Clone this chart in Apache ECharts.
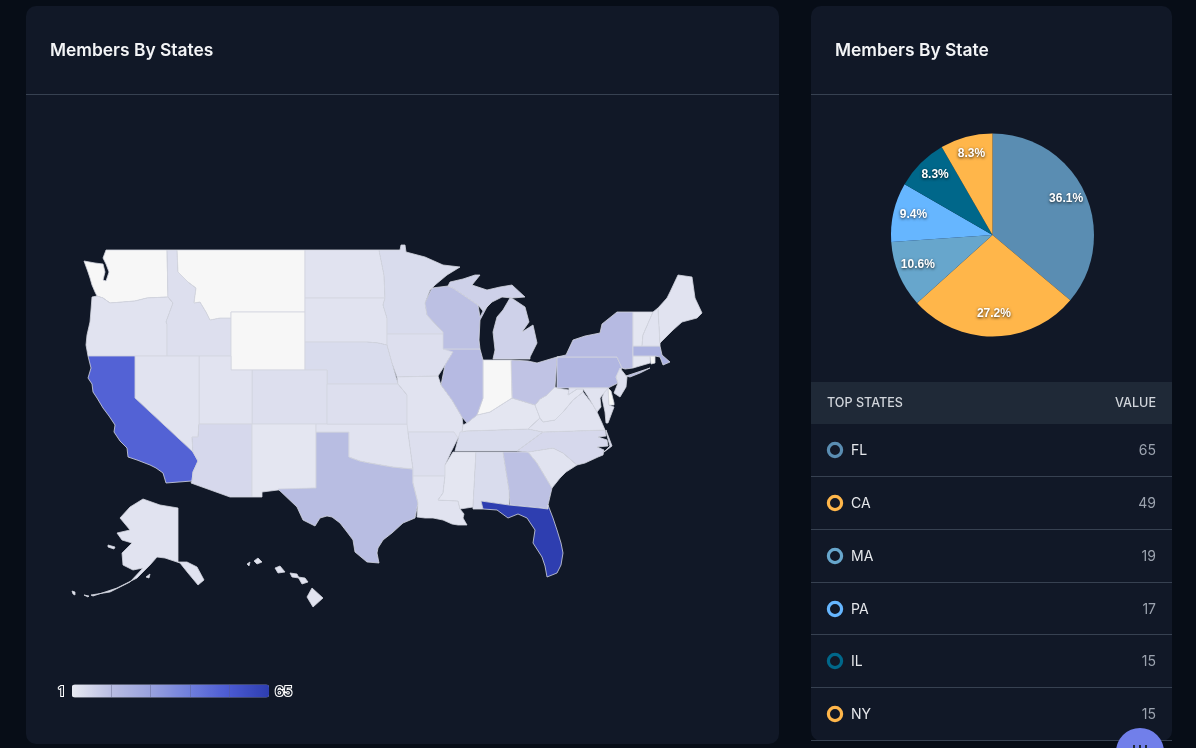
<!DOCTYPE html>
<html>
<head>
<meta charset="utf-8">
<style>html,body{margin:0;padding:0;background:#070d17}#c{width:1196px;height:748px}</style>
<script src="https://cdn.jsdelivr.net/npm/echarts@6/dist/echarts.min.js"></script>
</head>
<body>
<div id="c"></div>
<script>
// ---- data ----
const mapTitle = 'Members By States';
const pieTitle = 'Members By State';
const tableHeads = ['TOP STATES', 'VALUE'];
const topStates = ['FL', 'CA', 'MA', 'PA', 'IL', 'NY'];
const topValues = [65, 49, 19, 17, 15, 15];
const topColors = ['#5a8db2', '#ffb64a', '#67a6cc', '#66b6ff', '#00678a', '#ffb64a'];
const mapStates = ['FL','CA','MA','PA','IL','NY','TX','WI','GA','OH','MI','AZ','NC','MN','NE','TN','AL','ID','OR','KS','CO','ND','SD','IA','MO','AR','OK','NV','UT','NM','LA','MS','SC','KY','VA','WV','MD','NJ','CT','NH','VT','ME','AK','HI'];
const mapValues = [65,49,19,17,15,15,14,13,13,12,8,6,6,5,5,5,5,4,3,4,4,3,3,4,3,4,3,3,3,2,3,2,3,2,3,2,3,4,2,3,2,3,3,3];
const scaleColors = ['#e8eaf2','#b9bde2','#98a1de','#6f7edc','#4a59d2','#2e3eb0'];
const scaleMin = 1, scaleMax = 65;

// simplified state outlines, in map units
const stateShapes = {
WA:['106,250 167,250 168,297 147,298 135,301 123,302 110,303 103,298 97,296 95,292 92,285 90,278 88,272 84,261 95,263 103,264 105,272 103,280 106,281 109,272 106,264 103,258'],
OR:['92,297 97,296 103,298 110,303 123,302 135,301 147,298 168,297 173,303 166,322 167,324 167,356 88,356 86,345 87,335 90,322 91,310'],
ID:['167,250 177,250 178,272 188,282 196,288 194,303 200,302 206,312 210,320 220,318 231,318 231,356 167,356 167,324 166,322 173,303 168,297'],
MT:['177,250 305,250 305,312 231,312 231,318 220,318 210,320 206,312 200,302 194,303 196,288 188,282 178,272'],
WY:['231,312 305,312 305,370 231,370'],
ND:['305,250 379,250 384,275 385,298 305,298'],
SD:['305,298 385,298 383,305 387,318 387,345 378,343 367,342 305,342'],
NE:['305,342 367,342 378,343 387,345 392,363 398,384 327,384 327,370 305,370'],
CO:['252,370 327,370 327,424 252,424'],
UT:['199,356 231,356 231,370 252,370 252,424 199,424'],
NV:['135,356 199,356 199,424 198,437 192,437 193,452 135,398'],
CA:['88,356 135,356 135,398 193,452 198,461 193,472 192,481 166,483 163,473 156,468 150,465 137,460 128,457 127,448 120,441 114,432 115,425 109,416 103,408 97,398 93,392 92,384 88,378 91,368'],
AZ:['199,424 252,424 252,497 230,497 191,483 192,481 193,472 198,461 193,452 192,437 198,437'],
NM:['252,424 316,424 316,488 278,490 262,492 262,497 252,497'],
TX:['316,432 349,432 349,457 360,461 370,463 393,467 413,469 413,483 418,503 415,518 403,523 392,533 383,540 378,548 377,553 379,563 367,562 355,552 353,540 347,532 340,523 332,517 327,516 320,518 315,526 303,520 297,507 278,489 316,488'],
OK:['316,424 408,424 408,432 413,469 393,467 370,463 360,461 349,457 349,432 316,432'],
KS:['327,384 398,384 403,390 407,395 407,424 327,424'],
MN:['379,250 400,250 401,245 405,245 406,252 425,257 443,265 460,267 447,275 435,285 430,290 425,303 427,315 443,332 443,334 387,334 387,318 383,305 385,298 384,275'],
IA:['387,334 443,334 453,352 445,365 438,376 397,377 392,363 387,345'],
MO:['397,377 438,376 441,385 452,400 462,417 463,425 462,432 458,438 454,438 454,432 408,432 407,424 407,395 403,390 398,384'],
AR:['408,432 454,432 458,438 451,452 445,465 445,476 413,476 413,469'],
LA:['413,476 445,476 443,493 438,500 458,501 460,509 464,514 463,518 467,525 458,525 452,524 443,520 433,518 425,518 417,517 418,503 413,483'],
MS:['453,452 476,452 473,507 460,509 458,501 438,500 443,493 445,476 445,465'],
AL:['476,452 503,452 509,490 509,505 481,501 483,509 473,509 473,507'],
GA:['503,452 528,452 537,463 552,488 548,505 548,509 540,508 510,505 509,490'],
FL:['481,501 509,505 540,508 548,509 548,505 553,518 557,530 561,543 563,553 561,565 557,573 547,577 545,566 542,557 533,543 535,530 527,518 518,514 508,518 497,510 483,509'],
SC:['528,452 553,448 563,453 577,465 566,472 560,478 552,488 537,463'],
NC:['517,451 543,432 605,430 606,436 598,437 607,440 608,446 597,447 604,450 603,455 598,457 585,463 577,465 563,453 553,448 528,452','606,430 612,446 604,452 603,451 610,446 606,432'],
TN:['455,451 460,432 466,431 528,429 543,432 517,451'],
KY:['462,432 463,425 467,423 477,415 490,412 512,398 535,405 540,418 528,429 466,431'],
VA:['528,429 540,418 543,422 555,420 563,412 573,400 583,392 593,405 597,412 602,423 605,430 543,432'],
WV:['535,405 540,399 547,395 555,387 557,388 569,390 568,395 577,389 583,389 583,392 573,400 563,412 555,420 543,422 540,418'],
OH:['511,360 528,361 537,363 557,357 556,373 555,387 547,395 540,399 535,405 512,398'],
IN:['483,360 511,360 512,398 490,412 477,415 483,398'],
IL:['443,349 480,349 483,360 483,398 477,415 467,423 462,417 452,400 441,385 445,365 453,352'],
WI:['432,288 448,286 453,288 478,305 480,317 485,307 488,305 480,320 479,340 480,349 443,349 443,332 427,315 425,303'],
MI:['493,359 495,350 493,332 497,317 503,310 510,298 513,299 525,307 529,322 522,332 533,325 537,343 530,357 530,359','448,286 450,282 463,279 475,275 480,275 472,285 487,290 500,287 512,285 525,297 512,298 502,297 492,302 483,311 478,305 453,288'],
PA:['557,357 617,357 622,368 616,377 618,383 608,388 557,388'],
NY:['557,357 566,355 573,340 585,336 600,333 602,324 617,312 633,312 633,346 633,368 625,369 622,368 617,357','626,376 650,368 640,373 630,377'],
NJ:['620,368 627,377 626,387 620,397 614,393 618,383 616,377'],
MD:['569,388 608,388 604,393 600,398 601,407 597,412 593,405 587,395 583,389 577,389 568,395 569,390','604,393 608,388 609,405 614,407 608,423 606,423 605,412 602,398'],
DE:['608,388 611,391 614,403 614,405 609,405'],
CT:['633,356 650,356 650,363 633,368'],
RI:['650,356 655,356 655,363 651,364'],
MA:['633,346 660,346 662,355 670,362 663,365 660,357 655,356 633,356'],
VT:['633,312 653,312 643,335 642,346 633,346'],
NH:['653,312 658,308 660,343 660,346 642,346 643,335'],
ME:['658,308 667,298 670,292 678,275 692,277 695,298 702,313 697,318 682,322 673,330 660,343'],
AK:['178,508 178,562 187,562 197,567 204,580 198,585 188,573 180,563 165,558 157,557 150,565 137,578 117,588 93,596 91,595 110,592 130,582 143,568 133,570 123,565 122,553 132,543 122,540 117,533 130,530 120,518 130,507 143,499 160,505','108,545 115,547 114,549 108,547','146,577 150,574 149,578','72,591 75,592 75,595 73,594','84,595 89,596 88,597'],
HI:['307,597 312,588 323,598 313,607','275,568 280,566 285,572 278,573','254,561 258,558 262,562 257,564','290,573 297,574 299,578 292,577','298,577 305,578 308,582 302,584','247,564 250,562 249,566']
};

const features = Object.keys(stateShapes).map(function (code) {
  return {
    type: 'Feature', properties: { name: code },
    geometry: {
      type: 'MultiPolygon',
      coordinates: stateShapes[code].map(function (r) {
        return [r.split(' ').map(function (p) { const a = p.split(','); return [+a[0], -a[1]]; })];
      })
    }
  };
});
echarts.registerMap('US', { type: 'FeatureCollection', features: features });

const FONT = 'Inter, "Noto Sans", sans-serif';
const chart = echarts.init(document.getElementById('c'), null, { renderer: 'canvas' });

const g = [];
function card(x, y, w, h) {
  g.push({ type: 'rect', z: -5, shape: { x: x, y: y, width: w, height: h, r: 10 }, style: { fill: '#111827' } });
  g.push({ type: 'rect', z: -4, shape: { x: x, y: 94, width: w, height: 1 }, style: { fill: '#374151' } });
}
card(26, 6, 753, 738);
card(811, 6, 361, 735);
g.push({ type: 'rect', z: -4, shape: { x: 811, y: 382, width: 361, height: 42 }, style: { fill: '#1f2937' } });
g.push({ type: 'text', z: 5, style: { x: 827, y: 403.5, text: tableHeads[0], fill: '#d1d5db', font: '500 12.6px ' + FONT, align: 'left', verticalAlign: 'middle' } });
g.push({ type: 'text', z: 5, style: { x: 1156, y: 403.5, text: tableHeads[1], fill: '#d1d5db', font: '500 12.6px ' + FONT, align: 'right', verticalAlign: 'middle' } });
const rowMid = [451, 504, 557, 610, 662, 715];
const rowDot = [450, 503, 556, 609, 661, 714];
const rowLine = [476, 529, 582, 634, 687, 740];
topStates.forEach(function (s, i) {
  g.push({ type: 'circle', z: 5, shape: { cx: 835, cy: rowDot[i], r: 6.6 }, style: { fill: 'transparent', stroke: topColors[i], lineWidth: 3.2 } });
  g.push({ type: 'text', z: 5, style: { x: 851, y: rowMid[i], text: s, fill: '#e5e7eb', font: '400 14px ' + FONT, align: 'left', verticalAlign: 'middle' } });
  g.push({ type: 'text', z: 5, style: { x: 1156, y: rowMid[i], text: String(topValues[i]), fill: '#9ca3af', font: '400 14px ' + FONT, align: 'right', verticalAlign: 'middle' } });
  g.push({ type: 'rect', z: 5, shape: { x: 811, y: rowLine[i], width: 361, height: 1 }, style: { fill: '#374151' } });
});
// scale bar segment ticks and end labels
[111, 150, 190, 229].forEach(function (x) {
  g.push({ type: 'rect', z: 50, shape: { x: x, y: 684.5, width: 1, height: 13 }, style: { fill: 'rgba(90,95,130,0.4)' } });
});
const endStyle = { fill: '#111827', stroke: '#ffffff', lineWidth: 2, font: '600 13.5px ' + FONT, verticalAlign: 'middle' };
g.push({ type: 'text', z: 50, style: Object.assign({}, endStyle, { x: 64, y: 691.5, text: String(scaleMin), align: 'right' }) });
g.push({ type: 'text', z: 50, style: Object.assign({}, endStyle, { x: 275, y: 691.5, text: String(scaleMax), align: 'left' }) });
// floating button
g.push({ type: 'circle', z: 60, shape: { cx: 1140, cy: 752, r: 24 }, style: { fill: '#717fea' } });
[1134, 1140, 1146].forEach(function (x) {
  g.push({ type: 'rect', z: 61, shape: { x: x - 1, y: 745, width: 2, height: 4 }, style: { fill: '#1f2937' } });
});

const pieTotal = topValues.reduce(function (a, b) { return a + b; }, 0);
const pieR = 101.5;
function labelShift(i) {
  let before = 0;
  for (let k = 0; k < i; k++) before += topValues[k];
  const a = (before + topValues[i] / 2) / pieTotal * Math.PI * 2;
  return { dx: Math.sin(a) * pieR * 0.27, dy: -Math.cos(a) * pieR * 0.27 - 2.5 };
}

const titleStyle = { color: '#f3f4f6', fontFamily: FONT, fontWeight: 600, fontSize: 17.4, lineHeight: 20 };
chart.setOption({
  backgroundColor: '#070d17',
  animation: false,
  title: [
    { text: mapTitle, left: 50, top: 40.5, textStyle: titleStyle, padding: 0 },
    { text: pieTitle, left: 835, top: 40.5, textStyle: titleStyle, padding: 0 }
  ],
  graphic: g,
  visualMap: {
    type: 'continuous', seriesIndex: 0, min: scaleMin, max: scaleMax, calculable: false, realtime: false,
    orient: 'horizontal', left: 72, top: 684.5, itemWidth: 13, itemHeight: 197, itemGap: 0,
    text: null, showLabel: false, padding: 0,
    inRange: { color: scaleColors }
  },
  series: [
    {
      type: 'map', map: 'US', aspectScale: 1, left: 72, top: 245, width: 630, height: 362, silent: true, roam: false,
      label: { show: false },
      itemStyle: { areaColor: '#f7f7f7', borderColor: '#d3d5df', borderWidth: 0.8 },
      emphasis: { disabled: true },
      data: mapStates.map(function (s, i) { return { name: s, value: mapValues[i] }; })
    },
    {
      type: 'pie', center: [992.5, 235], radius: [0, pieR], startAngle: 90, clockwise: true, silent: true,
      data: topStates.map(function (s, i) { return { name: s, value: topValues[i], itemStyle: { color: topColors[i] } }; }),
      label: { show: true, position: 'inside', formatter: function (p) { return (p.value / pieTotal * 100).toFixed(1) + '%'; }, color: '#ffffff', fontFamily: '"Liberation Sans", Arial, sans-serif', fontWeight: 'bold', fontSize: 12, textShadowColor: 'rgba(0,0,0,0.8)', textShadowBlur: 3, textShadowOffsetX: 0, textShadowOffsetY: 1 },
      labelLine: { show: false },
      labelLayout: function (p) { return labelShift(p.dataIndex); }
    }
  ]
});
</script>
</body>
</html>
